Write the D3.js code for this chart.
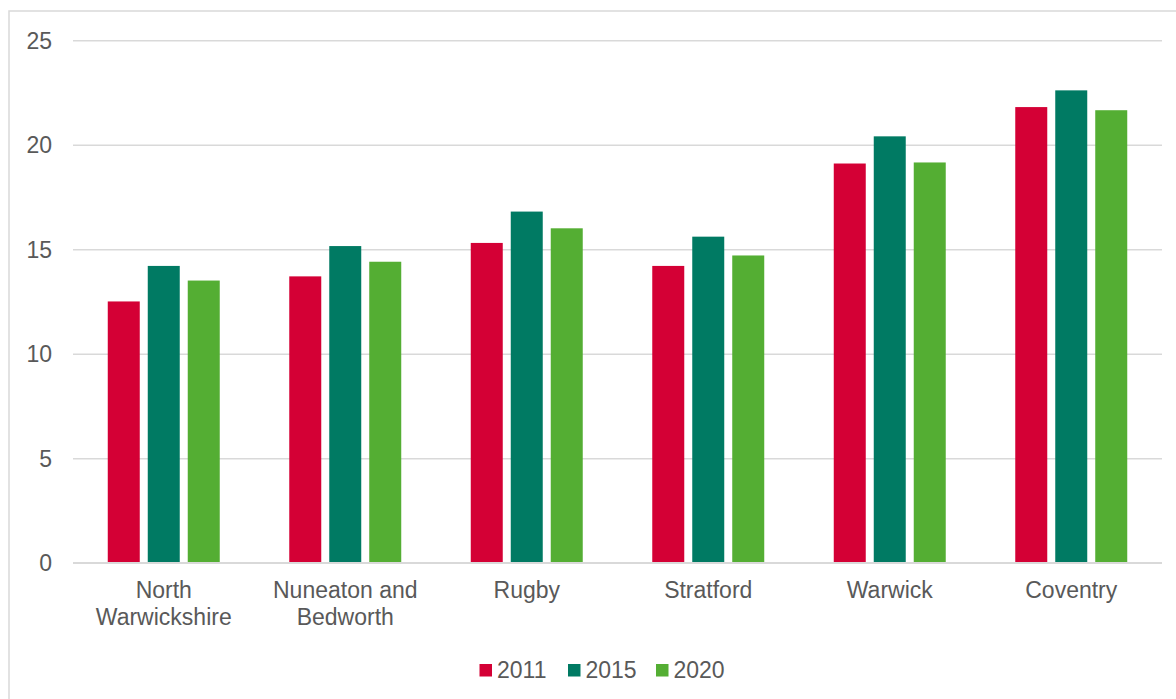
<!DOCTYPE html>
<html>
<head>
<meta charset="utf-8">
<script src="https://cdn.jsdelivr.net/npm/d3@7"></script>
<style>
  html, body { margin: 0; padding: 0; background: #ffffff; }
  svg { display: block; font-family: Arial, "Liberation Sans", sans-serif; }
</style>
</head>
<body>
<svg id="chart" width="1176" height="699"></svg>
<script>
const categories = [["North", "Warwickshire"], ["Nuneaton and", "Bedworth"], ["Rugby"], ["Stratford"], ["Warwick"], ["Coventry"]];
const seriesNames = ["2011", "2015", "2020"];
const values2011 = [12.5, 13.7, 15.3, 14.2, 19.1, 21.8];
const values2015 = [14.2, 15.15, 16.8, 15.6, 20.4, 22.6];
const values2020 = [13.5, 14.4, 16.0, 14.7, 19.15, 21.65];
const yTicks = [0, 5, 10, 15, 20, 25];
const colors = ["#d40035", "#007a63", "#54ae33"];

const seriesValues = [values2011, values2015, values2020];
const catKeys = categories.map(c => c.join(" "));
const data = catKeys.map((k, i) => ({ key: k, lines: categories[i], vals: seriesValues.map(s => s[i]) }));

const svg = d3.select("#chart");
const textColor = "#595959";
const gridColor = "#d9d9d9";
const fontSize = "23px";

// outer frame
svg.append("rect").attr("x", 9).attr("y", 11).attr("width", 1180).attr("height", 700)
  .attr("fill", "none").attr("stroke", gridColor).attr("stroke-width", 1.5);

const plot = { left: 73, right: 1162, top: 40.2, bottom: 562.7 };

const y = d3.scaleLinear().domain([0, 25]).range([plot.bottom, plot.top]);
const x0 = d3.scaleBand().domain(catKeys).range([plot.left, plot.right])
  .paddingInner(0.383).paddingOuter(0.1915);
const x1 = d3.scaleBand().domain(seriesNames).range([0, x0.bandwidth()])
  .paddingInner(0.2).paddingOuter(0);

// gridlines
const yAxis = d3.axisLeft(y).tickValues(yTicks).tickSize(-(plot.right - plot.left)).tickPadding(21)
  .tickFormat(d3.format("d"));
const gy = svg.append("g").attr("transform", `translate(${plot.left},0)`).call(yAxis);
gy.select(".domain").remove();
gy.selectAll(".tick line").attr("stroke", gridColor).attr("stroke-width", 1.4);
gy.selectAll(".tick text").attr("fill", textColor).style("font-size", fontSize).attr("dy", "0.36em");

// bars
const groups = svg.append("g").selectAll("g").data(data).join("g")
  .attr("transform", d => `translate(${x0(d.key)},0)`);
groups.selectAll("rect").data(d => d.vals.map((v, i) => ({ s: seriesNames[i], v, i })))
  .join("rect")
  .attr("x", d => x1(d.s))
  .attr("width", x1.bandwidth())
  .attr("y", d => y(d.v))
  .attr("height", d => y(0) - y(d.v))
  .attr("fill", d => colors[d.i]);

// x axis baseline
svg.append("line").attr("x1", plot.left).attr("x2", plot.right)
  .attr("y1", y(0)).attr("y2", y(0)).attr("stroke", gridColor).attr("stroke-width", 1.6);

// x axis labels
const xAxis = d3.axisBottom(x0).tickSize(0).tickFormat(() => "");
const gx = svg.append("g").attr("transform", `translate(0,${plot.bottom})`).call(xAxis);
gx.select(".domain").remove();
gx.selectAll(".tick").each(function(d, i) {
  const t = d3.select(this).append("text")
    .attr("fill", textColor).attr("text-anchor", "middle").style("font-size", fontSize);
  categories[i].forEach((line, j) => {
    t.append("tspan").attr("x", 0).attr("y", 35.6 + j * 26.7).text(line);
  });
});

// legend
const legendItems = [
  { name: seriesNames[0], color: colors[0], x: 479.5 },
  { name: seriesNames[1], color: colors[1], x: 568 },
  { name: seriesNames[2], color: colors[2], x: 656 }
];
const lg = svg.append("g");
legendItems.forEach(it => {
  lg.append("rect").attr("x", it.x).attr("y", 664).attr("width", 12.5).attr("height", 12.5).attr("fill", it.color);
  lg.append("text").attr("x", it.x + 17.5).attr("y", 678.3).attr("fill", textColor)
    .style("font-size", fontSize).text(it.name);
});
</script>
</body>
</html>
